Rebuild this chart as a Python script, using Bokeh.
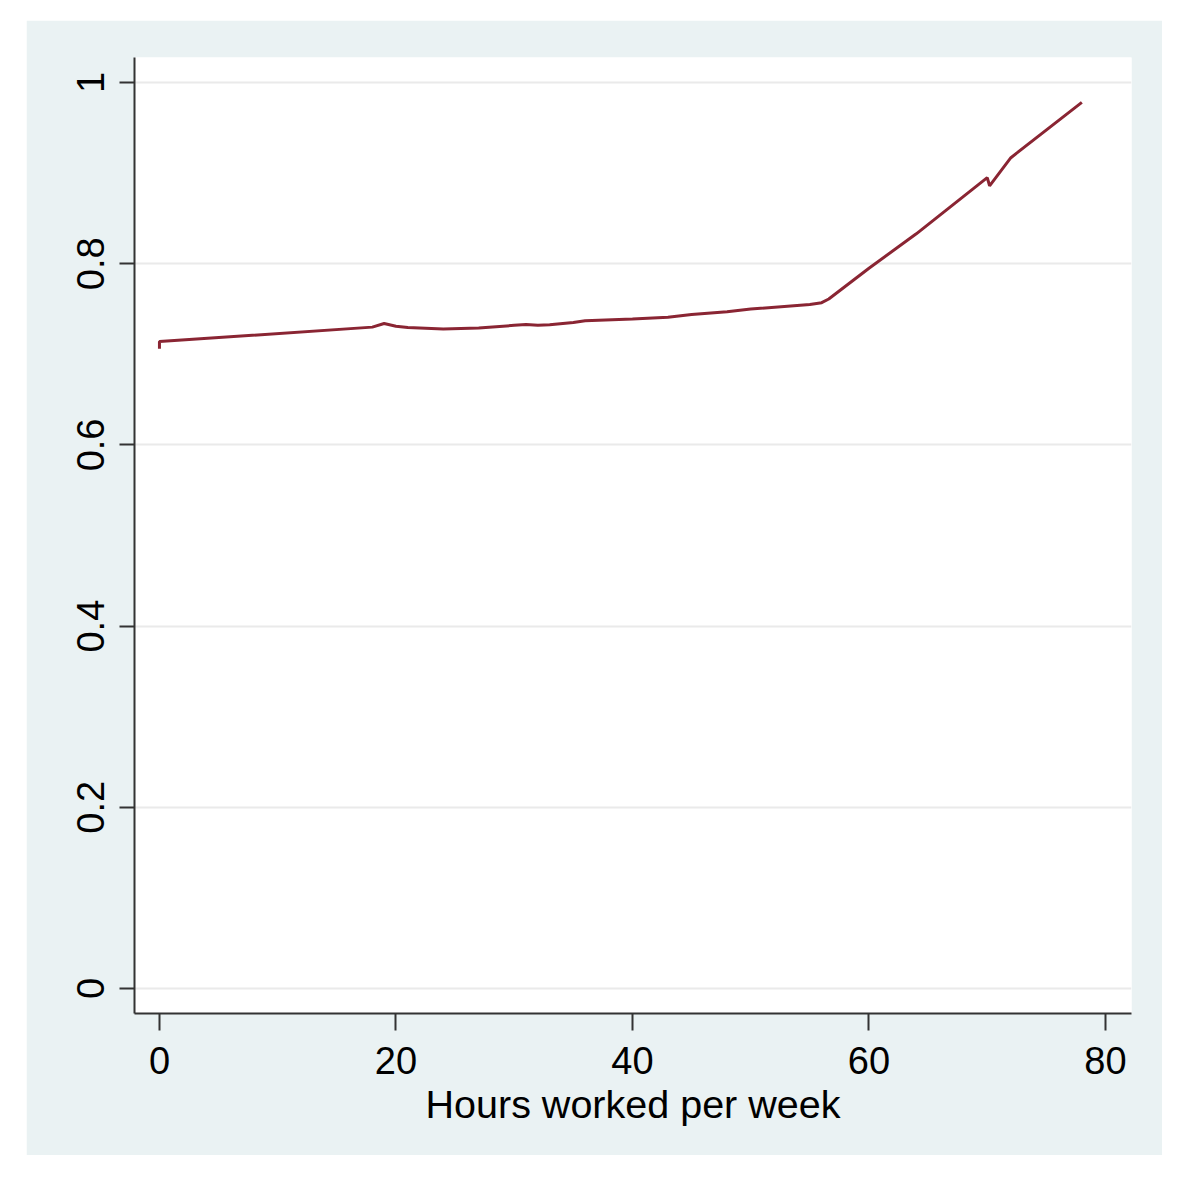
from bokeh.plotting import figure
from bokeh.models import Range1d, FixedTicker
from bokeh.embed import file_html
from bokeh.resources import INLINE

# Data
hours = [0, 0, 18, 19, 20, 21, 24, 27, 30, 31, 32, 33, 35, 36, 40, 43, 45, 48, 50,
         55, 56, 56.6, 60, 64, 70, 70.2, 72, 78]
prob = [0.706, 0.714, 0.730, 0.734, 0.731, 0.7295, 0.728, 0.729, 0.732, 0.733, 0.732,
        0.7325, 0.735, 0.737, 0.739, 0.741, 0.744, 0.747, 0.750, 0.755, 0.757, 0.761,
        0.795, 0.833, 0.895, 0.886, 0.917, 0.978]

x_ticks = [0, 20, 40, 60, 80]
x_tick_labels = ["0", "20", "40", "60", "80"]
y_ticks = [0, 0.2, 0.4, 0.6, 0.8, 1]
y_tick_labels = ["0", "0.2", "0.4", "0.6", "0.8", "1"]
x_title = "Hours worked per week"

PANEL = "#EAF2F3"
FONT = "Liberation Sans"

p = figure(width=1136, height=1135, output_backend="svg", toolbar_location=None,
           x_range=Range1d(-2.11, 82.2), y_range=Range1d(-0.0276, 1.0276),
           min_border_left=108, min_border_right=31, min_border_top=37,
           min_border_bottom=142, margin=(20, 0, 0, 26))
p.background_fill_color = "white"
p.border_fill_color = PANEL
p.outline_line_color = None

p.line(hours, prob, line_color="#8A2533", line_width=3)

# axes
for ax in (p.xaxis[0], p.yaxis[0]):
    ax.axis_line_color = "#333333"
    ax.axis_line_width = 2
    ax.major_tick_line_color = "#333333"
    ax.major_tick_line_width = 2
    ax.major_tick_in = 0
    ax.minor_tick_line_color = None
    ax.major_label_text_font = FONT
    ax.major_label_text_font_size = "38px"
    ax.major_label_text_color = "black"

p.xaxis.ticker = FixedTicker(ticks=x_ticks)
p.xaxis.major_label_overrides = dict(zip(x_ticks, x_tick_labels))
p.xaxis.major_tick_out = 17
p.xaxis.major_label_standoff = 16
p.xaxis.axis_label = x_title
p.xaxis.axis_label_text_font = FONT
p.xaxis.axis_label_text_font_size = "39.5px"
p.xaxis.axis_label_text_font_style = "normal"
p.xaxis.axis_label_text_color = "black"
p.xaxis.axis_label_standoff = 5

p.yaxis.ticker = FixedTicker(ticks=y_ticks)
p.yaxis.major_label_overrides = dict(zip(y_ticks, y_tick_labels))
p.yaxis.major_tick_out = 15
p.yaxis.major_label_standoff = 15
p.yaxis.major_label_orientation = "vertical"

p.xgrid.grid_line_color = None
p.ygrid.grid_line_color = "#EAEAEA"
p.ygrid.grid_line_width = 2
p.ygrid.ticker = FixedTicker(ticks=y_ticks)

open("out.html", "w").write(file_html(p, INLINE))
